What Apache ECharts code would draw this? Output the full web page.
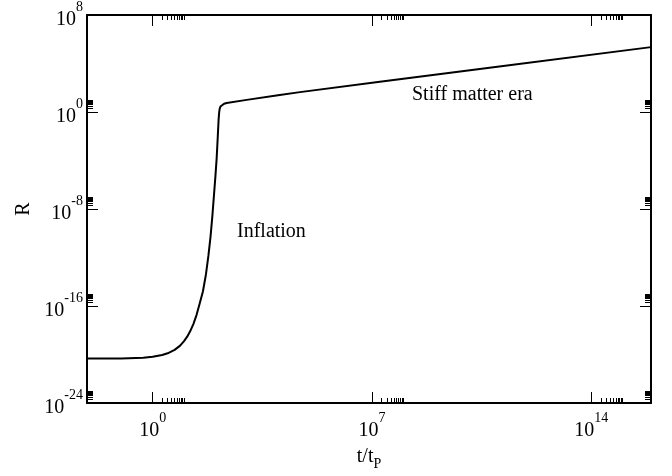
<!DOCTYPE html>
<html>
<head>
<meta charset="utf-8">
<script src="https://cdn.jsdelivr.net/npm/echarts@6/dist/echarts.min.js"></script>
<style>
  html, body { margin: 0; padding: 0; background: #fff; }
  #chart { width: 672px; height: 476px; }
</style>
</head>
<body>
<div id="chart"></div>
<script>
// scale factor (t in Planck times, R dimensionless)
var tVals = [0.008, 0.1, 0.5, 1, 2, 3, 5, 7.5, 10, 12.6, 15.8, 20, 25, 31.6, 40, 50, 60, 70, 80, 90,
  100, 110, 120, 127, 132, 137, 145, 160, 190, 229, 1e3, 1e4, 5e4, 1.78e7, 1e11, 8e15];
var rVals = [4.68e-21, 4.68e-21, 5.5e-21, 6.46e-21, 9.1e-21, 1.26e-20, 2.4e-20, 5.4e-20, 1.26e-19, 2.95e-19,
  8.5e-19, 3.4e-18, 1.78e-17, 1.58e-16, 1.58e-15, 4.0e-14, 1.41e-12, 5.0e-11, 2.5e-9, 1.26e-7,
  4.5e-6, 1.58e-4, 0.0126, 0.25, 0.89, 1.78, 2.8, 3.8, 4.8, 5.6, 10, 24, 43.6, 316, 5.4e3, 2.24e5];

var tMajor = [1, 1e7, 1e14];
var rMajor = [1e-24, 1e-16, 1e-8, 1, 1e8];
var minorMult = [2, 3, 4, 5, 6, 7, 8, 9, 10];

var tMin = 0.008, tMax = 8e15;
var rMin = 1e-24, rMax = 1e8;

function minors(majors, max) {
  var out = [];
  majors.forEach(function (v) {
    minorMult.forEach(function (m) {
      if (v * m < max) out.push(v * m);
    });
  });
  return out;
}
var tMinor = minors(tMajor, tMax);
var rMinor = minors(rMajor, rMax);

var chart = echarts.init(document.getElementById('chart'));

var font = 'Liberation Serif';
var lineStyle = { color: '#000', width: 2 };
var richLabel = {
  b: { fontFamily: font, fontSize: 20, color: '#000', lineHeight: 30, verticalAlign: 'bottom' },
  s: { fontFamily: font, fontSize: 14, color: '#000', lineHeight: 14, verticalAlign: 'top' }
};
function powLabel(v) {
  var e = Math.round(Math.log10(v));
  return '{b|10}{s|' + e + '}';
}

// one axis for each set of ticks (major / minor) on each side of the frame
function xAx(pos, ticks, len, withLine, withLabel) {
  return {
    type: 'log',
    logBase: 10,
    position: pos,
    min: tMin,
    max: tMax,
    axisLine: { show: withLine, onZero: false, lineStyle: lineStyle },
    axisTick: { show: true, inside: true, length: len, customValues: ticks, lineStyle: { color: '#000', width: 1 } },
    axisLabel: withLabel ? {
      show: true, customValues: tMajor, margin: 8, formatter: powLabel, rich: richLabel
    } : { show: false },
    splitLine: { show: false },
    minorTick: { show: false }
  };
}
function yAx(pos, ticks, len, withLine, withLabel) {
  return {
    type: 'log',
    logBase: 10,
    position: pos,
    min: rMin,
    max: rMax,
    axisLine: { show: withLine, onZero: false, lineStyle: lineStyle },
    axisTick: { show: true, inside: true, length: len, customValues: ticks, lineStyle: { color: '#000', width: 1 } },
    axisLabel: withLabel ? {
      show: true, customValues: rMajor, margin: 4, formatter: powLabel, rich: richLabel
    } : { show: false },
    splitLine: { show: false },
    minorTick: { show: false }
  };
}

var xBottom = xAx('bottom', tMajor, 11, true, true);
xBottom.name = '{a|t/t}{p|P}';
xBottom.nameLocation = 'middle';
xBottom.nameGap = 44;
xBottom.nameTextStyle = {
  rich: {
    a: { fontFamily: font, fontSize: 20, color: '#000', lineHeight: 24, verticalAlign: 'top' },
    p: { fontFamily: font, fontSize: 14, color: '#000', lineHeight: 14, verticalAlign: 'bottom' }
  }
};

var yLeft = yAx('left', rMajor, 11, true, true);
yLeft.name = 'R';
yLeft.nameLocation = 'middle';
yLeft.nameGap = 52;
yLeft.nameTextStyle = { fontFamily: font, fontSize: 20, color: '#000' };

var option = {
  animation: false,
  backgroundColor: '#fff',
  grid: { left: 87, right: 21, top: 14, bottom: 68, containLabel: false },
  xAxis: [
    xBottom,
    xAx('bottom', tMinor, 5, false, false),
    xAx('top', tMajor, 11, true, false),
    xAx('top', tMinor, 5, false, false)
  ],
  yAxis: [
    yLeft,
    yAx('left', rMinor, 6, false, false),
    yAx('right', rMajor, 11, true, false),
    yAx('right', rMinor, 6, false, false)
  ],
  graphic: [
    {
      type: 'text', left: 237, top: 222,
      style: { text: 'Inflation', font: '20px "Liberation Serif"', fill: '#000' }
    },
    {
      type: 'text', left: 412, top: 85,
      style: { text: 'Stiff matter era', font: '20px "Liberation Serif"', fill: '#000' }
    }
  ],
  series: [
    {
      type: 'line',
      xAxisIndex: 0,
      yAxisIndex: 0,
      data: tVals.map(function (t, i) { return [t, rVals[i]]; }),
      showSymbol: false,
      smooth: false,
      lineStyle: { color: '#000', width: 2 }
    }
  ]
};
chart.setOption(option);
</script>
</body>
</html>
